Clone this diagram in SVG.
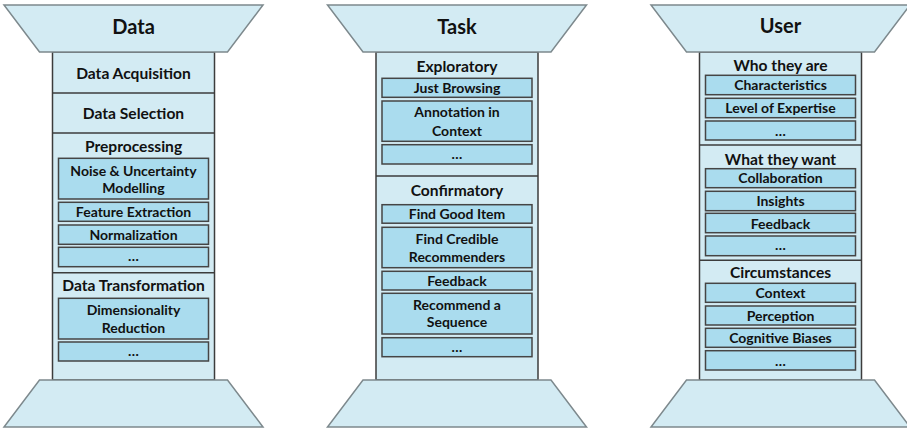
<svg xmlns="http://www.w3.org/2000/svg" width="907" height="429" viewBox="0 0 907 429">
<style>
.bg{fill:#fff}
.col{fill:#d3ebf3;stroke:#3c3c3c;stroke-width:1.5}
.trap{fill:#d3ebf3;stroke:#7d898d;stroke-width:1.5}
.div{stroke:#3c3c3c;stroke-width:1.5}
.box{fill:#aadcee;stroke:#454545;stroke-width:1.5}
text{font-family:Lato,"Open Sans","Liberation Sans",sans-serif;font-weight:bold;fill:#111;text-anchor:middle}
.h{font-size:20px}
.s{font-size:15.6px}
.i{font-size:14px}
</style>
<rect class="bg" x="0" y="0" width="907" height="429"/>

<g id="pillar-data">
  <rect class="col" x="52.5" y="52" width="162" height="328"/>
  <line class="div" x1="52.5" y1="93" x2="214.5" y2="93"/>
  <line class="div" x1="52.5" y1="133" x2="214.5" y2="133"/>
  <line class="div" x1="52.5" y1="272.7" x2="214.5" y2="272.7"/>
  <g id="data-top"><polygon class="trap" points="4,5 263,5 227.5,52 39.5,52"/><text class="h" x="133.5" y="33.5">Data</text></g>
  <g id="data-base"><polygon class="trap" points="39.5,380 227.5,380 263,427 4,427"/></g>
  <g id="data-acquisition"><text class="s" x="133.5" y="79">Data Acquisition</text></g>
  <g id="data-selection"><text class="s" x="133.5" y="119">Data Selection</text></g>
  <g id="preprocessing"><text class="s" x="133.5" y="151.7">Preprocessing</text></g>
  <g id="noise"><rect class="box" x="58.5" y="158.3" width="150" height="40.7"/><text class="i" x="133.5" y="175.7">Noise &amp; Uncertainty</text><text class="i" x="133.5" y="193.3">Modelling</text></g>
  <g id="feature-extraction"><rect class="box" x="58.5" y="202.3" width="150" height="19"/><text class="i" x="133.5" y="216.8">Feature Extraction</text></g>
  <g id="normalization"><rect class="box" x="58.5" y="225" width="150" height="19.3"/><text class="i" x="133.5" y="239.7">Normalization</text></g>
  <g id="pre-more"><rect class="box" x="58.5" y="247.3" width="150" height="19.4"/><text class="i" x="133.5" y="261">…</text></g>
  <g id="data-transformation"><text class="s" x="133.5" y="291.3">Data Transformation</text></g>
  <g id="dimensionality"><rect class="box" x="58.5" y="298.3" width="150" height="40.7"/><text class="i" x="133.5" y="314.7">Dimensionality</text><text class="i" x="133.5" y="332.7">Reduction</text></g>
  <g id="trans-more"><rect class="box" x="58.5" y="342" width="150" height="19"/><text class="i" x="133.5" y="356">…</text></g>
</g>

<g id="pillar-task">
  <rect class="col" x="376" y="52" width="162" height="328"/>
  <line class="div" x1="376" y1="176" x2="538" y2="176"/>
  <g id="task-top"><polygon class="trap" points="327.5,5 586.5,5 551,52 363,52"/><text class="h" x="457" y="34.3">Task</text></g>
  <g id="task-base"><polygon class="trap" points="363,380 551,380 586.5,427 327.5,427"/></g>
  <g id="exploratory"><text class="s" x="457" y="72.3">Exploratory</text></g>
  <g id="just-browsing"><rect class="box" x="382" y="78.3" width="150" height="19"/><text class="i" x="457" y="92.9">Just Browsing</text></g>
  <g id="annotation"><rect class="box" x="382" y="101" width="150" height="40.3"/><text class="i" x="457" y="117.3">Annotation in</text><text class="i" x="457" y="135.7">Context</text></g>
  <g id="expl-more"><rect class="box" x="382" y="144.7" width="150" height="19.3"/><text class="i" x="457" y="158.5">…</text></g>
  <g id="confirmatory"><text class="s" x="457" y="196">Confirmatory</text></g>
  <g id="find-good-item"><rect class="box" x="382" y="204.7" width="150" height="18.5"/><text class="i" x="457" y="219">Find Good Item</text></g>
  <g id="find-credible"><rect class="box" x="382" y="227.3" width="150" height="40.4"/><text class="i" x="457" y="244">Find Credible</text><text class="i" x="457" y="261.7">Recommenders</text></g>
  <g id="task-feedback"><rect class="box" x="382" y="271.3" width="150" height="18.7"/><text class="i" x="457" y="285.7">Feedback</text></g>
  <g id="recommend-sequence"><rect class="box" x="382" y="293.3" width="150" height="40.7"/><text class="i" x="457" y="310">Recommend a</text><text class="i" x="457" y="327.3">Sequence</text></g>
  <g id="conf-more"><rect class="box" x="382" y="337.7" width="150" height="19"/><text class="i" x="457" y="351.5">…</text></g>
</g>

<g id="pillar-user">
  <rect class="col" x="699.5" y="52" width="162" height="328"/>
  <line class="div" x1="699.5" y1="145" x2="861.5" y2="145"/>
  <line class="div" x1="699.5" y1="260.3" x2="861.5" y2="260.3"/>
  <g id="user-top"><polygon class="trap" points="651,5 910,5 874.5,52 686.5,52"/><text class="h" x="780.5" y="33.3">User</text></g>
  <g id="user-base"><polygon class="trap" points="686.5,380 874.5,380 910,427 651,427"/></g>
  <g id="who-they-are"><text class="s" x="780.5" y="70.7">Who they are</text></g>
  <g id="characteristics"><rect class="box" x="705.5" y="75.3" width="150" height="19.4"/><text class="i" x="780.5" y="90.3">Characteristics</text></g>
  <g id="expertise"><rect class="box" x="705.5" y="98.3" width="150" height="19.4"/><text class="i" x="780.5" y="113">Level of Expertise</text></g>
  <g id="who-more"><rect class="box" x="705.5" y="121" width="150" height="19"/><text class="i" x="780.5" y="135.7">…</text></g>
  <g id="what-they-want"><text class="s" x="780.5" y="164.7">What they want</text></g>
  <g id="collaboration"><rect class="box" x="705.5" y="168.7" width="150" height="19"/><text class="i" x="780.5" y="183.3">Collaboration</text></g>
  <g id="insights"><rect class="box" x="705.5" y="191.3" width="150" height="19.4"/><text class="i" x="780.5" y="206">Insights</text></g>
  <g id="user-feedback"><rect class="box" x="705.5" y="213.3" width="150" height="19.4"/><text class="i" x="780.5" y="228.7">Feedback</text></g>
  <g id="want-more"><rect class="box" x="705.5" y="236" width="150" height="19.7"/><text class="i" x="780.5" y="250.3">…</text></g>
  <g id="circumstances"><text class="s" x="780.5" y="278.3">Circumstances</text></g>
  <g id="context"><rect class="box" x="705.5" y="283.3" width="150" height="19"/><text class="i" x="780.5" y="298">Context</text></g>
  <g id="perception"><rect class="box" x="705.5" y="306" width="150" height="19"/><text class="i" x="780.5" y="320.7">Perception</text></g>
  <g id="cognitive-biases"><rect class="box" x="705.5" y="328.3" width="150" height="19"/><text class="i" x="780.5" y="342.7">Cognitive Biases</text></g>
  <g id="circ-more"><rect class="box" x="705.5" y="350.7" width="150" height="19.3"/><text class="i" x="780.5" y="365.7">…</text></g>
</g>
</svg>
